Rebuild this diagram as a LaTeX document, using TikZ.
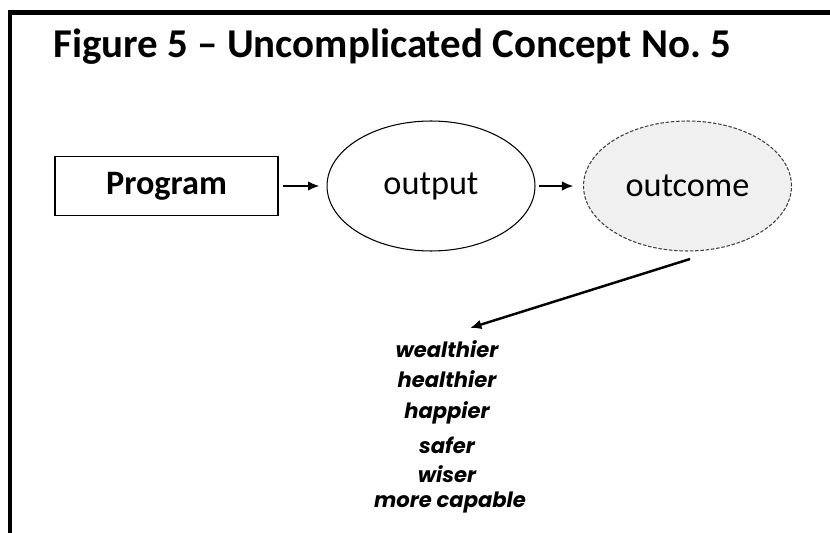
\documentclass[tikz,border=0pt]{standalone}
\usepackage{fontspec}
\setmainfont{Carlito}
\newfontfamily\listfont{Poppins}
\usetikzlibrary{shapes.geometric,arrows.meta}
\begin{document}
\begin{tikzpicture}[x=0.02cm,y=-0.02cm,
        blob/.style={ellipse,draw,line width=0.6pt,inner sep=0pt,
            minimum width=4.16cm,minimum height=2.6cm,font=\fontsize{19.5}{22}\selectfont},
        link/.style={-{Latex[length=6.5pt,width=5.5pt]},line width=1.2pt},
        goal/.style={anchor=base,font=\listfont\bfseries\itshape\fontsize{12}{14}\selectfont}]
        \useasboundingbox (0,0) rectangle (830,533);
        \draw[line width=2.8pt] (10,533) |- (830,12.5);
        \node[anchor=base west,inner sep=0pt,font=\bfseries\fontsize{23.3}{27}\selectfont] (title) at (53,58) {Figure 5 – Uncomplicated Concept No.\ 5};

        \node[draw,line width=1.1pt,minimum width=4.46cm,minimum height=1.18cm,
            font=\bfseries\fontsize{19.5}{22}\selectfont] (prog) at (166.5,186) {Program};
        \node[blob] (outp) at (431,186) {output};
        \node[blob,dash pattern=on 2pt off 1pt,draw=black!75,fill=gray!12] (outc) at (687.5,186) {outcome};
        \draw[link,shorten <=2.5pt,shorten >=4pt] (prog.east) -- (outp.west);
        \draw[link,shorten <=1.7pt,shorten >=5.5pt] (outp.east) -- (outc.west);

        \coordinate (tail) at (690,259);
        \coordinate (tip) at (470,328);
        \draw[link,line width=1.4pt] (tail) -- (tip);

        \node[goal] (rich) at (447,357) {wealthier};
        \node[goal] (healthy) at (447,387) {healthier};
        \node[goal] (happy) at (447,418) {happier};
        \node[goal] (safe) at (447,453) {safer};
        \node[goal] (wise) at (447,482) {wiser};
        \node[goal] (capable) at (450,507) {more capable};
\end{tikzpicture}
\end{document}
